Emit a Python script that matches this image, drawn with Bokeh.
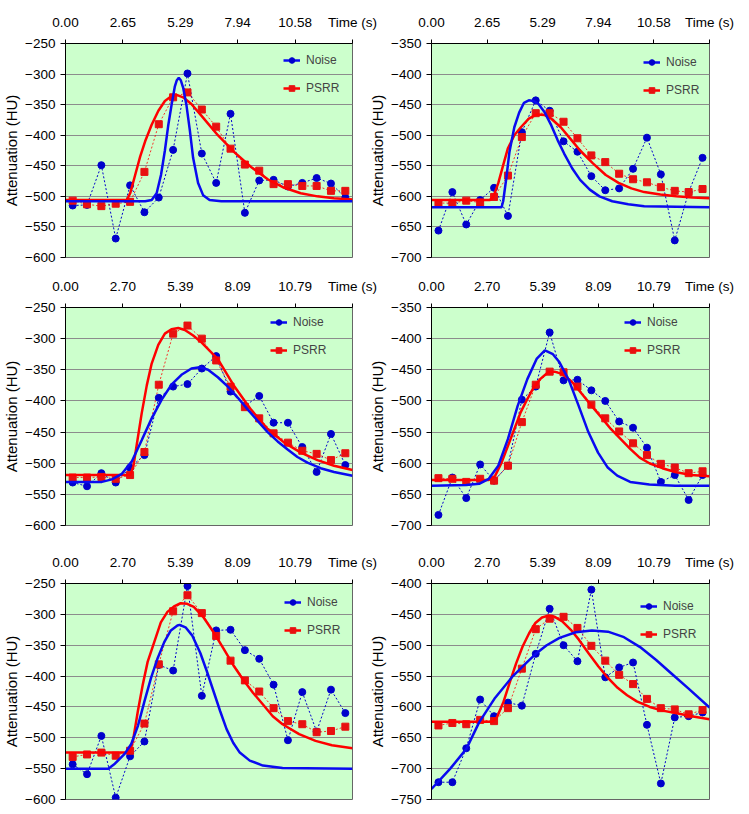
from bokeh.plotting import figure
from bokeh.layouts import row, column
from bokeh.models import Range1d, FixedTicker, Legend, LegendItem
from bokeh.embed import file_html
from bokeh.resources import INLINE

FONT = "Liberation Sans"

# ---- axis ticks ----
ticks_a = [0.0, 2.645, 5.29, 7.935, 10.58, 13.225]
tick_labels_a = ["0.00", "2.65", "5.29", "7.94", "10.58", "Time (s)"]
ticks_b = [0.0, 2.6975, 5.395, 8.0925, 10.79, 13.4875]
tick_labels_b = ["0.00", "2.70", "5.39", "8.09", "10.79", "Time (s)"]

# ---- sample times ----
t_a = [0.331, 0.992, 1.653, 2.314, 2.976, 3.637, 4.298, 4.959, 5.621, 6.282,
       6.943, 7.604, 8.266, 8.927, 9.588, 10.249, 10.911, 11.572, 12.233, 12.894]
t_b = [0.337, 1.012, 1.686, 2.360, 3.035, 3.709, 4.384, 5.058, 5.732, 6.407,
       7.081, 7.756, 8.430, 9.104, 9.779, 10.453, 11.128, 11.802, 12.476, 13.151]

# ---- panel top-left ----
noise_tl = [-515, -514, -449, -569, -482, -526, -502, -424, -299, -430, -478, -365, -527, -474, -473, -484, -478, -470, -479, -502]
psrr_tl = [-507, -513, -516, -512, -509, -460, -382, -338, -330, -358, -386, -422, -448, -458, -480, -480, -483, -483, -491, -491]
fitn_tl_t = [0.0, 3.67, 3.97, 4.20, 4.40, 4.58, 4.73, 4.89, 5.04, 5.13, 5.22, 5.31, 5.42, 5.57, 5.73, 5.88, 6.11, 6.34, 6.64, 7.18, 13.225]
fitn_tl_v = [-508, -508, -506, -495, -465, -425, -385, -350, -320, -310, -306, -310, -322, -350, -392, -437, -478, -498, -506, -508, -508]
fitp_tl_t = [0.0, 2.83, 2.98, 3.21, 3.44, 3.67, 3.97, 4.28, 4.58, 4.89, 5.12, 5.42, 5.80, 6.26, 7.02, 7.79, 8.55, 9.32, 10.08, 10.84, 11.61, 12.37, 13.225]
fitp_tl_v = [-506, -506, -495, -465, -435, -410, -383, -360, -344, -336, -334, -338, -349, -368, -400, -428, -452, -472, -486, -495, -500, -503, -505]

# ---- panel top-right ----
noise_tr = [-656, -593, -646, -606, -586, -632, -495, -443, -460, -510, -527, -567, -590, -587, -555, -504, -564, -672, -593, -537]
psrr_tr = [-611, -611, -607, -610, -601, -566, -503, -464, -464, -478, -505, -533, -544, -563, -572, -577, -585, -591, -593, -588]
fitn_tr_t = [0.0, 3.33, 3.41, 3.56, 3.71, 3.94, 4.17, 4.40, 4.63, 4.86, 5.09, 5.39, 5.70, 6.00, 6.31, 6.69, 7.07, 7.53, 7.99, 8.60, 9.36, 10.12, 11.65, 13.225]
fitn_tr_v = [-618, -618, -608, -570, -527, -487, -463, -447, -443, -444, -449, -463, -484, -508, -530, -554, -573, -589, -600, -608, -613, -616, -617, -618]
fitp_tr_t = [0.0, 2.79, 2.95, 3.18, 3.41, 3.63, 3.94, 4.25, 4.63, 5.01, 5.39, 5.70, 6.15, 6.61, 7.07, 7.68, 8.29, 8.90, 9.51, 10.12, 10.89, 11.65, 12.42, 13.225]
fitp_tr_v = [-606, -606, -600, -578, -549, -522, -500, -487, -473, -466, -467, -473, -487, -506, -525, -546, -565, -578, -587, -593, -597, -600, -602, -603]

# ---- panel middle-left ----
noise_ml = [-531, -537, -516, -531, -507, -487, -395, -377, -373, -348, -328, -385, -408, -392, -435, -435, -474, -514, -453, -503]
psrr_ml = [-523, -523, -522, -525, -519, -482, -374, -292, -279, -300, -335, -377, -410, -428, -452, -467, -480, -485, -495, -484]
fitn_ml_t = [0.0, 1.71, 2.18, 2.65, 3.12, 3.58, 4.05, 4.52, 4.98, 5.45, 5.92, 6.31, 6.70, 7.16, 7.63, 8.10, 8.57, 9.03, 9.50, 9.97, 10.44, 10.90, 11.37, 11.99, 12.62, 13.4875]
fitn_ml_v = [-530, -530, -526, -517, -497, -463, -428, -398, -374, -358, -348, -346, -350, -362, -377, -395, -414, -432, -450, -465, -478, -490, -499, -508, -514, -520]
fitp_ml_t = [0.0, 3.04, 3.19, 3.35, 3.58, 3.82, 4.05, 4.36, 4.67, 4.98, 5.30, 5.61, 6.00, 6.39, 7.16, 7.94, 8.72, 9.50, 10.28, 11.06, 11.84, 12.62, 13.4875]
fitp_ml_v = [-519, -519, -505, -470, -420, -375, -340, -310, -292, -285, -283, -286, -295, -306, -333, -377, -414, -445, -467, -483, -495, -504, -511]

# ---- panel middle-right ----
noise_mr = [-683, -623, -656, -602, -628, -604, -498, -477, -390, -467, -466, -483, -500, -533, -543, -575, -630, -619, -659, -619]
psrr_mr = [-624, -625, -630, -625, -628, -604, -534, -474, -453, -454, -477, -506, -528, -549, -568, -587, -601, -607, -616, -613]
fitn_mr_t = [0.0, 1.68, 2.31, 2.78, 3.24, 3.71, 4.18, 4.65, 5.11, 5.50, 5.89, 6.21, 6.67, 7.14, 7.61, 8.08, 8.55, 9.01, 9.64, 10.57, 11.82, 13.4875]
fitn_mr_v = [-636, -635, -633, -625, -604, -561, -508, -465, -432, -419, -425, -438, -467, -508, -550, -583, -607, -620, -630, -634, -636, -636]
fitp_mr_t = [0.0, 2.78, 3.09, 3.40, 3.71, 4.02, 4.33, 4.65, 4.96, 5.27, 5.66, 5.97, 6.36, 6.83, 7.30, 7.77, 8.23, 8.70, 9.17, 9.64, 10.10, 10.57, 11.20, 11.82, 12.60, 13.4875]
fitp_mr_v = [-627, -627, -620, -599, -572, -545, -518, -497, -478, -465, -454, -453, -457, -470, -489, -508, -526, -545, -561, -577, -591, -600, -608, -614, -619, -621]

# ---- panel bottom-left ----
noise_bl = [-543, -559, -497, -597, -530, -506, -382, -391, -254, -432, -326, -325, -358, -372, -414, -504, -426, -490, -422, -460]
psrr_bl = [-531, -527, -524, -529, -521, -477, -381, -295, -269, -298, -335, -375, -407, -425, -452, -473, -478, -491, -489, -482]
fitn_bl_t = [0.0, 2.01, 2.32, 2.78, 3.09, 3.40, 3.71, 4.02, 4.33, 4.64, 4.95, 5.26, 5.36, 5.64, 5.95, 6.34, 6.65, 6.96, 7.27, 7.57, 7.88, 8.19, 8.66, 9.28, 10.20, 13.4875]
fitn_bl_v = [-550, -550, -542, -526, -510, -481, -441, -403, -371, -345, -326, -318, -317, -321, -334, -363, -393, -425, -457, -486, -508, -524, -537, -545, -549, -550]
fitp_bl_t = [0.0, 3.01, 3.17, 3.40, 3.63, 3.86, 4.17, 4.48, 4.79, 5.10, 5.41, 5.72, 6.03, 6.49, 6.96, 7.42, 7.88, 8.35, 8.81, 9.28, 9.74, 10.20, 10.98, 11.75, 12.52, 13.4875]
fitp_bl_v = [-524, -524, -505, -457, -414, -377, -345, -313, -296, -287, -282, -283, -288, -305, -329, -355, -382, -406, -427, -446, -465, -478, -494, -505, -512, -517]

# ---- panel bottom-right ----
noise_br = [-722, -722, -667, -588, -615, -593, -598, -514, -441, -500, -526, -410, -552, -536, -528, -629, -724, -617, -615, -609]
psrr_br = [-630, -626, -628, -621, -623, -602, -538, -474, -457, -454, -472, -501, -525, -548, -563, -587, -602, -604, -612, -605]
fitn_br_t = [0.0, 0.91, 1.69, 2.31, 3.09, 3.95, 4.65, 5.06, 5.59, 6.21, 7.00, 7.78, 8.56, 9.34, 10.12, 10.90, 11.68, 12.46, 13.4875]
fitn_br_v = [-733, -700, -668, -625, -585, -550, -527, -514, -500, -488, -479, -476, -478, -487, -503, -524, -547, -570, -601]
fitp_br_t = [0.0, 2.94, 3.17, 3.48, 3.79, 4.11, 4.42, 4.73, 5.04, 5.36, 5.67, 5.98, 6.37, 6.76, 7.15, 7.62, 8.09, 8.56, 9.03, 9.49, 9.96, 10.59, 11.21, 11.84, 12.62, 13.4875]
fitp_br_v = [-624, -624, -617, -593, -561, -529, -502, -481, -464, -455, -452, -454, -462, -475, -491, -513, -534, -553, -569, -581, -591, -600, -606, -610, -615, -620]

BLUE_LINE = "#0a0af0"
BLUE_DOT = "#0000cc"
RED_LINE = "#ff0000"
RED_SQ = "#e81010"
BG = "#ccffcc"
GRID = "#8c8c8c"


def make_panel(t_pts, noise, psrr, fn_t, fn_v, fp_t, fp_v, ticks, labels, ylo, yhi,
               width, height, b_left, b_right, b_top, b_bottom, leg_xy, right=False):
    p = figure(width=width, height=height,
               x_range=Range1d(ticks[0], ticks[-1]), y_range=Range1d(ylo, yhi),
               output_backend="svg", toolbar_location=None, x_axis_location="above",
               min_border_left=b_left, min_border_right=b_right,
               min_border_top=b_top, min_border_bottom=b_bottom)
    p.background_fill_color = BG
    p.outline_line_color = "#666666"
    p.outline_line_width = 1
    if right:
        p.border_fill_alpha = 0.0
        p.margin = (0, 0, 0, -14)

    xa = p.xaxis[0]
    xa.ticker = FixedTicker(ticks=ticks)
    xa.major_label_overrides = dict(zip(ticks, labels))
    xa.major_tick_out = 4
    xa.major_tick_in = 0
    xa.minor_tick_line_color = None
    xa.axis_line_color = "black"
    xa.major_tick_line_color = "black"
    xa.major_label_text_font = FONT
    xa.major_label_text_font_size = "13.5px"
    xa.major_label_text_color = "black"
    xa.major_label_standoff = 10

    ya = p.yaxis[0]
    yt = list(range(ylo, yhi + 1, 50))
    ya.ticker = FixedTicker(ticks=yt)
    ya.major_tick_out = 5
    ya.major_tick_in = 0
    ya.minor_tick_line_color = None
    ya.axis_line_color = "black"
    ya.major_tick_line_color = "black"
    ya.major_label_text_font = FONT
    ya.major_label_text_font_size = "13.5px"
    ya.major_label_text_color = "black"
    ya.major_label_standoff = 5
    ya.axis_label = "Attenuation (HU)"
    ya.axis_label_text_font = FONT
    ya.axis_label_text_font_size = "15px"
    ya.axis_label_text_font_style = "normal"
    ya.axis_label_text_color = "black"
    ya.axis_label_standoff = 2

    p.xgrid.visible = False
    p.ygrid.ticker = FixedTicker(ticks=yt)
    p.ygrid.grid_line_color = GRID
    p.ygrid.grid_line_width = 1

    p.line(t_pts, noise, line_color=BLUE_DOT, line_width=1, line_dash="2 2")
    p.line(t_pts, psrr, line_color=RED_LINE, line_width=1, line_dash="2 2", line_alpha=0.8)
    n_sc = p.scatter(t_pts, noise, marker="circle", size=7, fill_color=BLUE_DOT, line_color=BLUE_DOT)
    p_sc = p.scatter(t_pts, psrr, marker="square", size=7, fill_color=RED_SQ, line_color=RED_SQ)
    fit_p = p.line(fp_t, fp_v, line_color=RED_LINE, line_width=2.5)
    fit_n = p.line(fn_t, fn_v, line_color=BLUE_LINE, line_width=2.5)

    leg = Legend(items=[LegendItem(label="Noise", renderers=[fit_n, n_sc]),
                        LegendItem(label="PSRR", renderers=[fit_p, p_sc])],
                 location=leg_xy, orientation="vertical",
                 padding=0, margin=0, spacing=14,
                 glyph_width=17, glyph_height=14, label_height=14, label_standoff=6,
                 label_text_font=FONT, label_text_font_size="12px",
                 background_fill_alpha=0.0, border_line_alpha=0.0)
    p.add_layout(leg)
    return p


tl = make_panel(t_a, noise_tl, psrr_tl, fitn_tl_t, fitn_tl_v, fitp_tl_t, fitp_tl_v,
                ticks_a, tick_labels_a, -600, -250, 380, 272, 63, 28, 43, 11, (218, 162))
tr = make_panel(t_a, noise_tr, psrr_tr, fitn_tr_t, fitn_tr_v, fitp_tr_t, fitp_tr_v,
                ticks_a, tick_labels_a, -700, -350, 382, 272, 55, 39, 40, 15, (212, 160), right=True)
ml = make_panel(t_b, noise_ml, psrr_ml, fitn_ml_t, fitn_ml_v, fitp_ml_t, fitp_ml_v,
                ticks_b, tick_labels_b, -600, -250, 380, 276, 63, 28, 35, 23, (205, 168))
mr = make_panel(t_b, noise_mr, psrr_mr, fitn_mr_t, fitn_mr_v, fitp_mr_t, fitp_mr_v,
                ticks_b, tick_labels_b, -700, -350, 382, 276, 55, 39, 35, 23, (193, 168), right=True)
bl = make_panel(t_b, noise_bl, psrr_bl, fitn_bl_t, fitn_bl_v, fitp_bl_t, fitp_bl_v,
                ticks_b, tick_labels_b, -600, -250, 380, 265, 63, 28, 35, 12, (219, 162))
br = make_panel(t_b, noise_br, psrr_br, fitn_br_t, fitn_br_v, fitp_br_t, fitp_br_v,
                ticks_b, tick_labels_b, -750, -400, 382, 265, 55, 39, 34, 14, (209, 158), right=True)

layout = column(row(tl, tr, spacing=0), row(ml, mr, spacing=0), row(bl, br, spacing=0), spacing=0)

open("out.html", "w").write(file_html(layout, INLINE))
